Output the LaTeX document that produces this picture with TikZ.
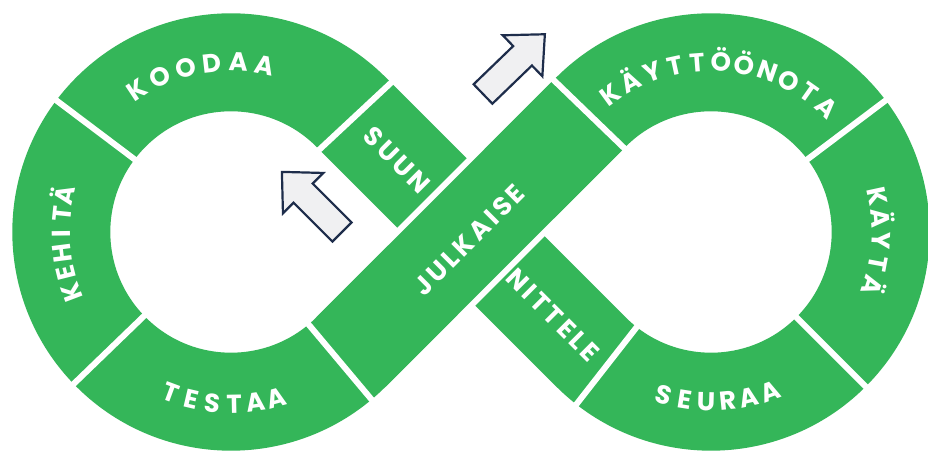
\documentclass[tikz,border=0pt]{standalone}
\usepackage{fontspec}
\setmainfont{Poppins}
\usetikzlibrary{calc}
\definecolor{devgreen}{RGB}{52,182,89}
\definecolor{arrowline}{RGB}{30,45,75}
\definecolor{arrowfill}{RGB}{240,240,242}
\newcommand{\labfont}{\fontsize{26}{26}\selectfont\bfseries}
\newcommand{\lk}{\kern3.5pt}
% #1 centre, #2 radius, #3 first angle, #4 last angle, #5 rotation offset, #6 name, #7 letters
\newcommand{\arcword}[7]{%
  \foreach \ch [count=\i] in {#7} {\xdef\arcwordcount{\i}}%
  \foreach \ch [count=\i] in {#7} {%
    \pgfmathsetmacro{\ang}{#3+(\i-0.5)*(#4-#3)/\arcwordcount}%
    \node[arcletter, rotate={\ang#5}] (#6-\i) at ($(#1)+(\ang:#2)$) {\ch};%
  }%
}
\begin{document}
\begin{tikzpicture}[x=1pt,y=1pt,
  band/.style={draw=devgreen, line width=98pt},
  gapband/.style={draw=white, line width=110pt},
  sepline/.style={draw=white, line width=6pt},
  straightlabel/.style={text=white, font=\labfont, inner sep=0pt},
  arcletter/.style={text=white, font=\labfont, inner sep=0pt, text height=18pt, text depth=0pt},
  bigarrow/.style={draw=arrowline, fill=arrowfill, line width=2.2pt, line join=miter}
]
\fill[white] (0,0) rectangle (928,452);
\useasboundingbox (0,0) rectangle (928,452);
\coordinate (L) at (231,220);
\coordinate (R) at (711,220);
\coordinate (J1) at ($(L)+(-45:169.7)$);
\coordinate (J2) at ($(R)+(135:169.7)$);
% loops and SUUN/NITTELE band
\draw[band] ($(L)+(45:169.7)$) arc[start angle=45, end angle=315, radius=169.7]
  -- (J2) arc[start angle=135, end angle=-135, radius=169.7] -- cycle;
% JULKAISE band on top, with a white gap where it crosses
\draw[gapband] ($(J1)!0.3!(J2)$) -- ($(J1)!0.7!(J2)$);
\draw[band] (J1) -- (J2);
% separators
\foreach \a in {43,143,224,-50} \draw[sepline] ($(L)+(\a:114)$) -- ($(L)+(\a:226)$);
\foreach \a in {136,37,-45,232} \draw[sepline] ($(R)+(\a:114)$) -- ($(R)+(\a:226)$);
% arc labels
\arcword{L}{170}{128}{74}{-90}{koodaa}{K,O,O,D,A,A}
\arcword{L}{170}{204}{164}{-90}{kehita}{K,E,H,I,T,Ä}
\arcword{L}{172}{246}{289}{+90}{testaa}{T,E,S,T,A,A}
\arcword{R}{170}{130}{43}{-90}{kayttoonota}{K,Ä,Y,T,T,Ö,Ö,N,O,T,A}
\arcword{R}{170}{16}{-22}{-90}{kayta}{K,Ä,Y,T,Ä}
\arcword{R}{170}{250}{294}{+90}{seuraa}{S,E,U,R,A,A}
% straight labels
\node[straightlabel, rotate=-45] (suun) at (397,292) {S\lk U\lk U\lk N};
\node[straightlabel, rotate=45] (julkaise) at (469,212) {J\lk U\lk L\lk K\lk A\lk I\lk S\lk E};
\node[straightlabel, rotate=-45] (nittele) at (553,137) {N\lk I\lk T\lk T\lk E\lk L\lk E};
% arrows
\begin{scope}[shift={(342,220)}, rotate=135]
\draw[bigarrow] (0,-13.5) -- (55,-13.5) -- (55,-28.5) -- (85,0) -- (55,28.5) -- (55,13.5) -- (0,13.5) -- cycle;
\end{scope}
\begin{scope}[shift={(483,358)}, rotate=44]
\draw[bigarrow] (0,-13.5) -- (55,-13.5) -- (55,-28.5) -- (86,0) -- (55,28.5) -- (55,13.5) -- (0,13.5) -- cycle;
\end{scope}
\end{tikzpicture}
\end{document}
